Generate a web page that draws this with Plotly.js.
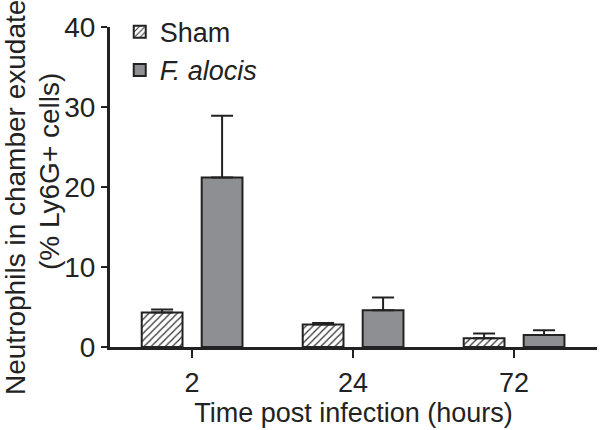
<!DOCTYPE html>
<html><head><meta charset="utf-8">
<script src="https://cdn.plot.ly/plotly-3.0.1.min.js"></script>
<style>html,body{margin:0;padding:0;background:#fff}#c{width:600px;height:430px}</style>
</head><body><div id="c"></div>
<script>
const categories = ["2", "24", "72"];
const shamValues = [4.3, 2.8, 1.1];
const shamErrors = [0.4, 0.2, 0.6];
const alocisValues = [21.2, 4.6, 1.5];
const alocisErrors = [7.7, 1.6, 0.6];
const yTicks = [0, 10, 20, 30, 40];
const yTitleLines = ["Neutrophils in chamber exudate", "(% Ly6G+ cells)"];

const axisColor = "#222";
const font = "Liberation Sans, Arial, sans-serif";

const traces = [
  {
    type: "bar", name: "Sham", x: categories, y: shamValues,
    marker: {color: "#ffffff", line: {color: axisColor, width: 2},
      pattern: {shape: "/", fgcolor: "#333", bgcolor: "#ffffff", size: 5, solidity: 0.25}},
    error_y: {type: "data", array: shamErrors, arrayminus: [0,0,0], symmetric: false,
      color: axisColor, thickness: 2, width: 11}
  },
  {
    type: "bar", name: "<i>F. alocis</i>", x: categories, y: alocisValues,
    marker: {color: "#8e8f92", line: {color: axisColor, width: 2}},
    error_y: {type: "data", array: alocisErrors, arrayminus: [0,0,0], symmetric: false,
      color: axisColor, thickness: 2, width: 11}
  }
];

const layout = {
  width: 600, height: 430,
  margin: {l: 110, r: 3, t: 27, b: 83},
  paper_bgcolor: "#fff", plot_bgcolor: "#fff",
  barmode: "group", bargap: 0.255, bargroupgap: 0.32,
  font: {family: font, color: "#222", size: 20},
  showlegend: true,
  legend: {x: 0.02, y: 1.06, xanchor: "left", yanchor: "top", font: {size: 27, color: "#222"},
    bgcolor: "rgba(0,0,0,0)", tracegroupgap: 0, itemwidth: 30},
  xaxis: {
    type: "category", range: [-0.51, 2.515],
    showline: true, linecolor: axisColor, linewidth: 3,
    ticks: "outside", ticklen: 8, tickwidth: 2, tickcolor: axisColor,
    tickfont: {size: 27}, ticklabelstandoff: 2, showgrid: false, zeroline: false,
    title: {text: "Time post infection (hours)", font: {size: 27}, standoff: 2}
  },
  yaxis: {
    range: [0, 40], tickvals: yTicks,
    showline: true, linecolor: axisColor, linewidth: 3,
    ticks: "outside", ticklen: 6, tickwidth: 2, tickcolor: axisColor,
    tickfont: {size: 28}, showgrid: false, zeroline: false
  },
  annotations: [
    {text: yTitleLines[0], xref: "paper", yref: "paper", x: 0, y: (347 - 198) / 320,
     xanchor: "center", yanchor: "middle", xshift: -95, textangle: -90, showarrow: false,
     font: {size: 28, color: "#222"}},
    {text: yTitleLines[1], xref: "paper", yref: "paper", x: 0, y: (347 - 172) / 320,
     xanchor: "center", yanchor: "middle", xshift: -61, textangle: -90, showarrow: false,
     font: {size: 28, color: "#222"}}
  ]
};

Plotly.newPlot("c", traces, layout, {displayModeBar: false, staticPlot: true});
</script>
</body></html>
